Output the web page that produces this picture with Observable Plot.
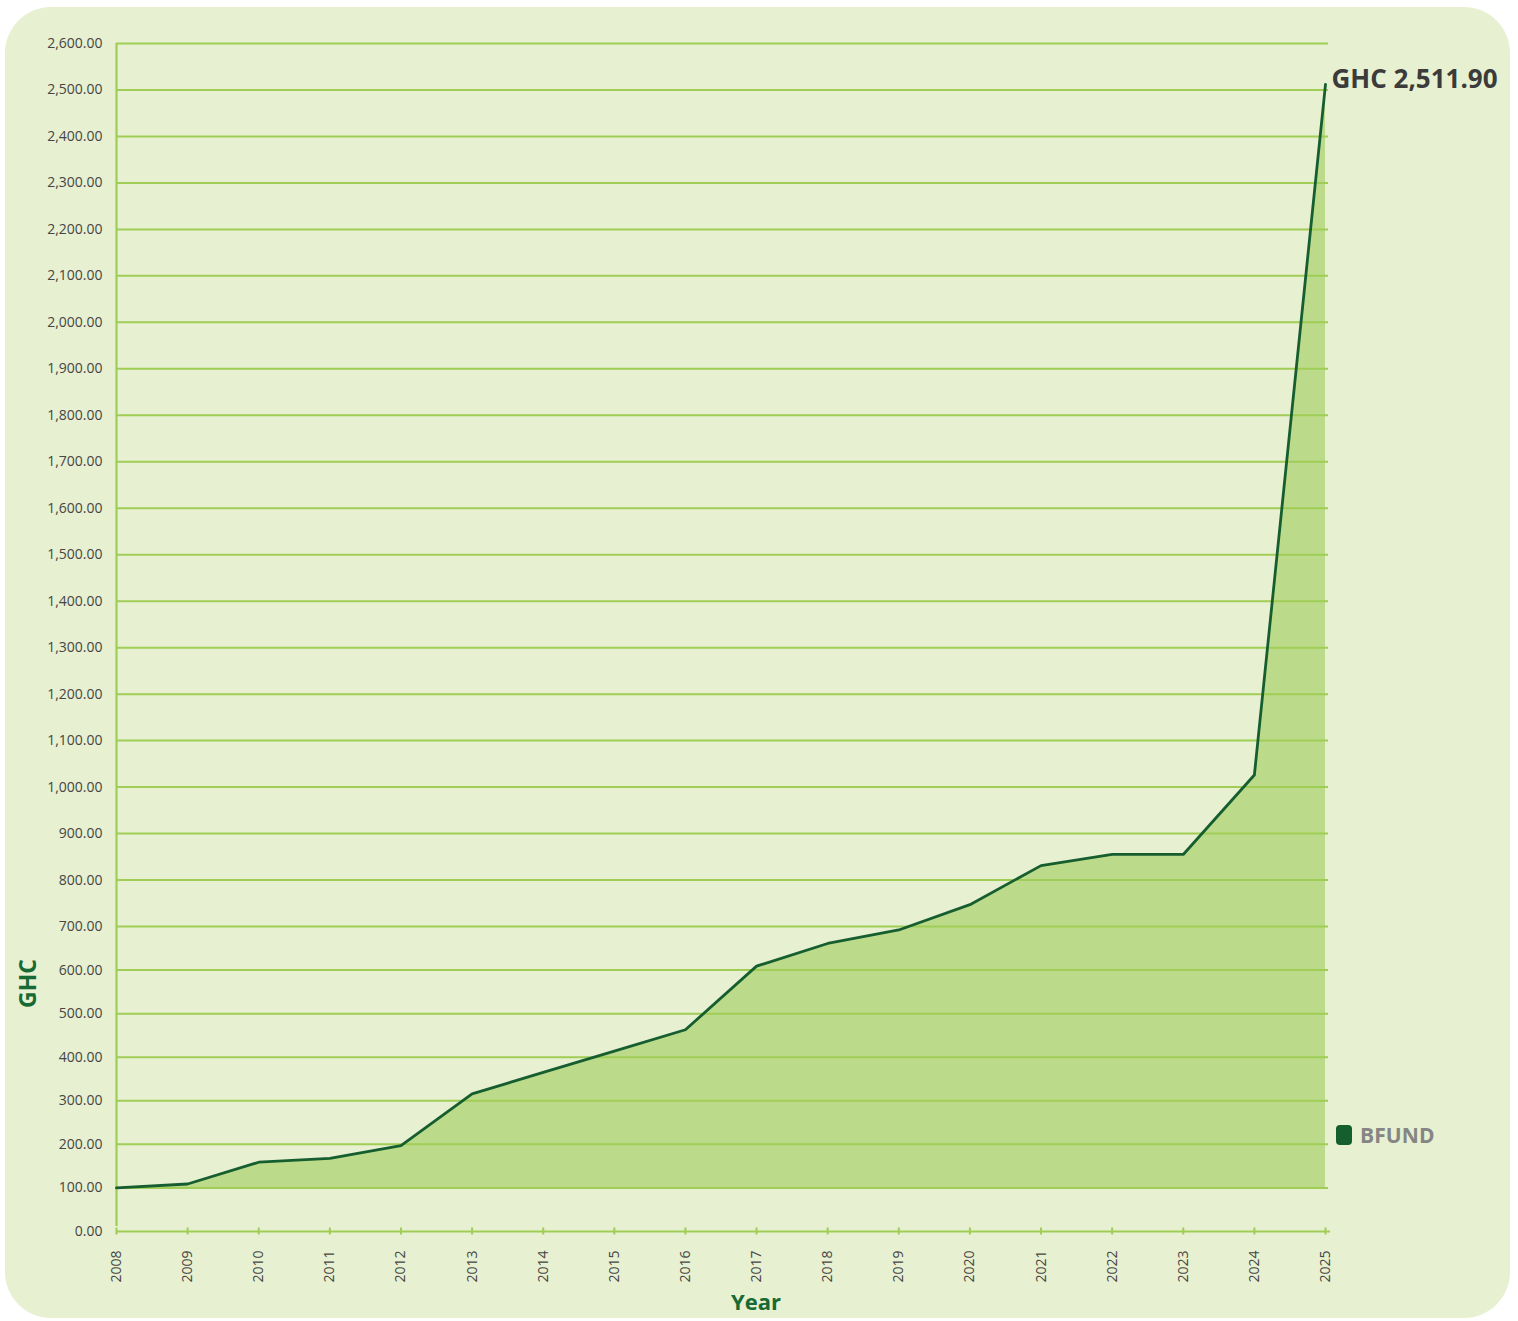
<!DOCTYPE html>
<html>
<head>
<meta charset="utf-8">
<script src="https://cdn.jsdelivr.net/npm/d3@7"></script>
<script src="https://cdn.jsdelivr.net/npm/@observablehq/plot@0.6"></script>
<style>
  html, body { margin: 0; padding: 0; background: #ffffff; }
  #wrap { position: relative; width: 1518px; height: 1321px; overflow: hidden; font-family: "Open Sans", sans-serif; }
  #card { position: absolute; left: 5px; top: 7px; width: 1505px; height: 1311px; border-radius: 46px; background: #e7f0d0; }
  #chart { position: absolute; left: 0; top: 0; }
  #legend { position: absolute; left: 1336px; top: 1121px; display: flex; align-items: center; gap: 8px; }
  #legend .sw { width: 16px; height: 20px; border-radius: 4px; background: #155e2e; }
  #legend .lb { font-weight: 700; font-size: 21px; color: #858585; letter-spacing: 0.1px; }
</style>
</head>
<body>
<div id="wrap">
  <div id="card"></div>
  <div id="chart"></div>
  <div id="legend"><div class="sw"></div><div class="lb">BFUND</div></div>
</div>
<script>
const years = [2008, 2009, 2010, 2011, 2012, 2013, 2014, 2015, 2016, 2017, 2018, 2019, 2020, 2021, 2022, 2023, 2024, 2025];
const values = [100, 109, 159, 168, 197, 316, 365, 414, 463, 609, 661, 692, 747, 831, 855, 855, 1026, 2511.90];
const yTicks = [0, 100, 200, 300, 400, 500, 600, 700, 800, 900, 1000, 1100, 1200, 1300, 1400, 1500, 1600, 1700, 1800, 1900, 2000, 2100, 2200, 2300, 2400, 2500, 2600];
const baseline = 100;
const seriesName = "BFUND";
const lastLabel = "GHC 2,511.90";

const data = years.map((y, i) => ({year: y, value: values[i]}));
const last = data[data.length - 1];

const GRID = "#9fcd55";
const LINE = "#165e30";
const FILL = "#bcdb8a";
const TXT = "#464646";
const GREEN_TXT = "#176a33";

const W = 1518, H = 1321;
const mTop = 43, mBottom = 90, mLeft = 116, mRight = 193;
const bottomPx = H - mBottom;

const chart = Plot.plot({
  width: W,
  height: H,
  marginTop: mTop,
  marginBottom: mBottom,
  marginLeft: mLeft,
  marginRight: mRight,
  style: {background: "transparent", fontFamily: "'Open Sans', sans-serif", overflow: "visible"},
  x: {type: "linear", domain: [2008, 2025]},
  y: {type: "linear", domain: [0, 700, 2600], range: [bottomPx, 926, mTop]},
  marks: [
    Plot.areaY(data, {x: "year", y1: baseline, y2: "value", fill: FILL}),
    Plot.ruleY(yTicks.filter(d => d > 0), {stroke: GRID, strokeWidth: 2, insetRight: -3}),
    Plot.ruleX([2008], {y1: 0, y2: 2600, stroke: GRID, strokeWidth: 2.2, insetTop: -5}),
    Plot.ruleY([0], {stroke: GRID, strokeWidth: 2.2, insetRight: -5}),
    Plot.lineY(data, {x: "year", y: "value", stroke: LINE, strokeWidth: 2.8, strokeLinejoin: "round"}),
    Plot.axisY({ticks: yTicks, tickFormat: d3.format(",.2f"), tickSize: 0, tickPadding: 14, label: null, fontSize: 14, color: TXT}),
    Plot.axisX({ticks: years, tickFormat: d => String(d), tickSize: 7, dy: -3.5, text: null, stroke: GRID, strokeWidth: 2, label: null}),
    Plot.axisX({ticks: years, tickFormat: d => String(d), tickSize: 0, tickPadding: 19, tickRotate: -90, label: null, fontSize: 14, color: TXT}),
    Plot.text([last], {x: "year", y: "value", text: () => lastLabel, textAnchor: "start", lineAnchor: "middle", dx: 6, dy: -5, fontSize: 26, fontWeight: 700, fill: "#3b3b3b", letterSpacing: -0.3}),
    Plot.text(["Year"], {frameAnchor: "bottom", text: d => d, textAnchor: "middle", lineAnchor: "middle", dx: 35, dy: 71, fontSize: 22, fontWeight: 700, fill: GREEN_TXT}),
    Plot.text(["GHC"], {frameAnchor: "bottom-left", text: d => d, textAnchor: "middle", lineAnchor: "middle", rotate: -90, dx: -88, dy: -248, fontSize: 23, fontWeight: 700, fill: GREEN_TXT})
  ]
});
document.getElementById("chart").appendChild(chart);
</script>
</body>
</html>
